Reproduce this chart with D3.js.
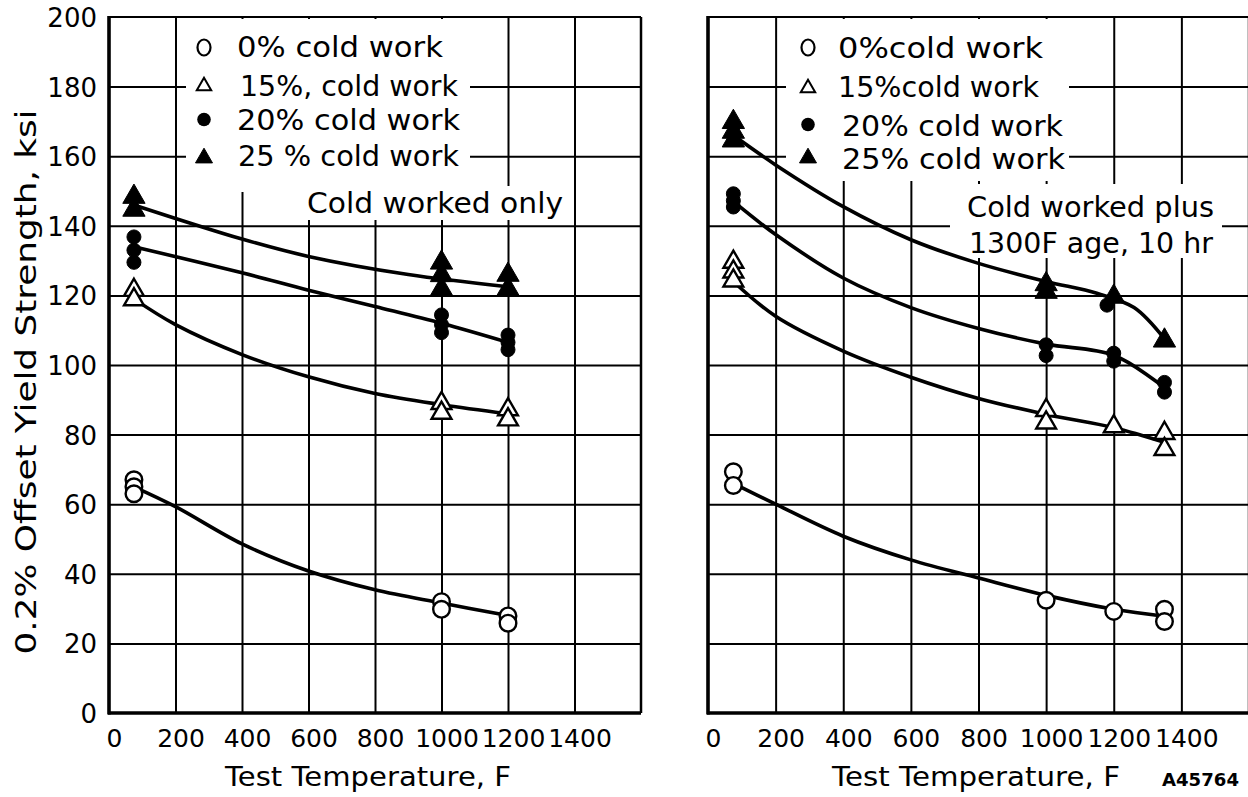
<!DOCTYPE html>
<html><head><meta charset="utf-8">
<script src="https://cdn.jsdelivr.net/npm/d3@7"></script>
<style>
body{margin:0;background:#fff}
svg{display:block}
text{font-family:"DejaVu Sans",sans-serif;fill:#000}
</style>
</head><body>
<svg id="c" width="1248" height="797"></svg>
<script>
// ---------- texts / ticks ----------
const xTicks = [0,200,400,600,800,1000,1200,1400,1600];
const xTickLabels = [0,200,400,600,800,1000,1200,1400];
const yTicks = [0,20,40,60,80,100,120,140,160,180,200];
const legendLeft = ["0% cold work","15%, cold work","20% cold work","25 % cold work"];
const legendRight = ["0%cold work","15%cold work","20% cold work","25% cold work"];
const labelLeft = ["Cold worked only"];
const labelRight = ["Cold worked plus","1300F age, 10 hr"];
const xTitle = "Test Temperature, F";
const yTitle = "0.2% Offset Yield Strength, ksi";
const figCode = "A45764";

// ---------- data: left panel (cold worked only) [temperature F, ksi] ----------
const left0  = [[75,67],[75,65],[75,63],[1000,32],[1000,29.8],[1200,27.9],[1200,25.8]];
const left15 = [[75,121.5],[75,118.8],[1000,89],[1000,86.2],[1200,87.2],[1200,84.3]];
const left20 = [[75,136.8],[75,133],[75,129.5],[1000,114.4],[1000,111.6],[1000,109.3],[1200,108.6],[1200,106.5],[1200,104.4]];
const left25 = [[75,148.3],[75,144.6],[1000,129.4],[1000,125.8],[1000,121.8],[1200,125.9],[1200,121.8]];
// faired curves (left)
const leftFit0  = [[75,65],[200,59.3],[400,48.6],[600,40.8],[800,35.4],[1000,31.6],[1200,28]];
const leftFit15 = [[75,119],[200,111.6],[400,103],[600,96.6],[800,91.8],[1000,88.6],[1200,86]];
const leftFit20 = [[75,134],[400,126.5],[600,121.5],[800,116.8],[1000,112],[1200,106.5]];
const leftFit25 = [[75,146],[400,136.2],[600,131.2],[900,126],[1200,122.5]];

// ---------- data: right panel (cold worked plus 1300F age, 10 hr) ----------
const right0  = [[75,69.3],[75,65.4],[1000,32.4],[1200,29.2],[1350,29.8],[1350,26.3]];
const right15 = [[75,129.6],[75,126.8],[75,124.2],[1000,87],[1000,83.4],[1200,82.3],[1350,80.4],[1350,75.8]];
const right20 = [[75,149.2],[75,147.2],[75,145.4],[1000,105.8],[1000,102.7],[1180,117.2],[1200,103.4],[1200,101.1],[1350,95],[1350,92.2]];
const right25 = [[75,169.8],[75,167],[75,164.5],[1000,123.2],[1000,121],[1200,119.6],[1350,107]];
// faired curves (right)
const rightFit0  = [[75,66],[200,60],[400,50.8],[600,44],[800,38.8],[1000,33.8],[1200,29.8],[1350,27.8]];
const rightFit15 = [[75,124],[200,114],[400,104],[600,96.5],[800,90.4],[1000,85.8],[1200,82],[1350,77.8]];
const rightFit20 = [[75,147],[200,137.5],[400,125],[600,116.5],[800,110.5],[1000,106],[1200,102.8],[1350,93.5]];
const rightFit25 = [[75,166],[200,157.5],[400,145.5],[600,136],[800,129.2],[1000,124],[1150,120.6],[1260,116.5],[1350,107.5]];

// ---------- layout ----------
const svg = d3.select("#c");
const y = d3.scaleLinear().domain([0,200]).range([713,17]);
const markerTypes = ["openCircle","openTri","dot","tri"];

const panels = [
  { x: d3.scaleLinear().domain([0,1600]).range([109,641]),
    series:[left0,left15,left20,left25], fits:[leftFit0,leftFit15,leftFit20,leftFit25],
    legend: legendLeft, symX: 204, symY:[47.5,86,119.5,157], textX:[237,240,237,238],
    textBase:[57,96,130,166], textLen:[206,218,223,221],
    masks:[[186,19,284,173],[298,186,274,34]],
    label: labelLeft, labelX:[307], labelBase:[213], labelLen:[256],
    yLabels:true, titleX:225, titleLen:286 },
  { x: d3.scaleLinear().domain([0,1600]).range([708,1249]),
    series:[right0,right15,right20,right25], fits:[rightFit0,rightFit15,rightFit20,rightFit25],
    legend: legendRight, symX: 808, symY:[47.5,88,124.5,157], textX:[838,838,842,842],
    textBase:[58,97,136,169], textLen:[205,201,221,223],
    masks:[[786,19,283,162],[950,184,272,74]],
    label: labelRight, labelX:[967,969], labelBase:[217,253], labelLen:[247,244],
    yLabels:false, titleX:832, titleLen:288 }
];

const line = d3.line().curve(d3.curveCatmullRom.alpha(0.5));

panels.forEach(p => {
  const g = svg.append("g");
  const x = p.x;
  const [x0,x1] = x.range();
  const [yb,yt] = y.range();

  // grid via axes
  g.append("g").attr("transform",`translate(0,${yb})`)
    .call(d3.axisBottom(x).tickValues(xTicks.slice(1,-1)).tickSize(-(yb-yt)).tickFormat(""))
    .call(a=>a.select(".domain").remove())
    .call(a=>a.selectAll("line").attr("stroke","#000").attr("stroke-width",2));
  g.append("g").attr("transform",`translate(${x0},0)`)
    .call(d3.axisLeft(y).tickValues(yTicks.slice(1,-1)).tickSize(-(x1-x0)).tickFormat(""))
    .call(a=>a.select(".domain").remove())
    .call(a=>a.selectAll("line").attr("stroke","#000").attr("stroke-width",2));

  // white masks behind legend and label
  p.masks.forEach(m => g.append("rect").attr("x",m[0]).attr("y",m[1]).attr("width",m[2]).attr("height",m[3]).attr("fill","#fff"));

  // frame
  g.append("line").attr("x1",x0).attr("x2",x1).attr("y1",yt).attr("y2",yt).attr("stroke","#000").attr("stroke-width",2.2);
  g.append("line").attr("x1",x1).attr("x2",x1).attr("y1",yt).attr("y2",yb).attr("stroke","#000").attr("stroke-width",2.5);
  g.append("line").attr("x1",x0).attr("x2",x0).attr("y1",yt-1).attr("y2",yb+1.5).attr("stroke","#000").attr("stroke-width",3.6);
  g.append("line").attr("x1",x0-1).attr("x2",x1).attr("y1",yb).attr("y2",yb).attr("stroke","#000").attr("stroke-width",3.6);

  // x tick labels
  const xa = g.append("g").attr("transform",`translate(5,${yb})`)
    .call(d3.axisBottom(x).tickValues(xTickLabels).tickSize(0).tickPadding(0).tickFormat(d3.format("d")));
  xa.select(".domain").remove();
  xa.selectAll("text").attr("font-family","DejaVu Sans").attr("font-size",25).attr("dy",null).attr("y",34).attr("fill","#000");

  // y tick labels
  if (p.yLabels) {
    const ya = g.append("g").attr("transform",`translate(97,0)`)
      .call(d3.axisLeft(y).tickValues(yTicks).tickSize(0).tickPadding(0).tickFormat(d3.format("d")));
    ya.select(".domain").remove();
    ya.selectAll("text").attr("font-family","DejaVu Sans").attr("font-size",26).attr("dy",null).attr("y",9.5).attr("x",0).attr("fill","#000");
  }

  // fitted curves
  p.fits.forEach(f => g.append("path").attr("d", line(f.map(d=>[x(d[0]),y(d[1])])))
    .attr("fill","none").attr("stroke","#000").attr("stroke-width",3.6).attr("stroke-linecap","round"));

  // markers
  p.series.forEach((s,i) => {
    const t = markerTypes[i];
    const sym = t.includes("Circle")||t==="dot"
      ? d3.symbol().type(d3.symbolCircle).size(t==="dot"? Math.PI*7*7 : Math.PI*8.3*8.3)
      : d3.symbol().type(d3.symbolTriangle).size(t==="tri"? 215 : 170);
    g.selectAll(null).data(s).enter().append("path")
      .attr("d", sym())
      .attr("transform", d=>`translate(${x(d[0])},${y(d[1])})`)
      .attr("fill", t.startsWith("open") ? "#fff" : "#000")
      .attr("stroke","#000").attr("stroke-width", t.startsWith("open") ? 2.4 : 1);
  });

  // legend symbols + text
  p.legend.forEach((txt,i) => {
    const t = markerTypes[i];
    const cy = p.symY[i];
    if (t==="openCircle") g.append("ellipse").attr("cx",p.symX).attr("cy",cy).attr("rx",6.5).attr("ry",8).attr("fill","#fff").attr("stroke","#000").attr("stroke-width",2.2);
    else if (t==="dot") g.append("circle").attr("cx",p.symX).attr("cy",cy).attr("r",6.8).attr("fill","#000");
    else g.append("path").attr("d", d3.symbol().type(d3.symbolTriangle).size(t==="tri"?125:90)())
      .attr("transform",`translate(${p.symX},${cy+ (t==="tri"?1:0)})`)
      .attr("fill", t==="tri"?"#000":"#fff").attr("stroke","#000").attr("stroke-width", t==="tri"?1:2);
    g.append("text").attr("x",p.textX[i]).attr("y",p.textBase[i]).attr("font-size",28)
      .attr("textLength",p.textLen[i]).attr("lengthAdjust","spacingAndGlyphs").text(txt);
  });

  // panel label
  p.label.forEach((txt,i) => g.append("text").attr("x",p.labelX[i]).attr("y",p.labelBase[i]).attr("font-size",28)
      .attr("textLength",p.labelLen[i]).attr("lengthAdjust","spacingAndGlyphs").text(txt));

  // x title
  g.append("text").attr("x",p.titleX).attr("y",786).attr("font-size",27)
    .attr("textLength",p.titleLen).attr("lengthAdjust","spacingAndGlyphs").text(xTitle);
});

// y title
svg.append("text").attr("transform","translate(36,382) rotate(-90)").attr("text-anchor","middle")
  .attr("font-size",28).attr("textLength",545).attr("lengthAdjust","spacingAndGlyphs").text(yTitle);

// figure code
svg.append("text").attr("x",1162).attr("y",786).attr("font-size",17).attr("font-weight","bold")
  .attr("textLength",77).attr("lengthAdjust","spacingAndGlyphs").text(figCode);
</script>
</body></html>
